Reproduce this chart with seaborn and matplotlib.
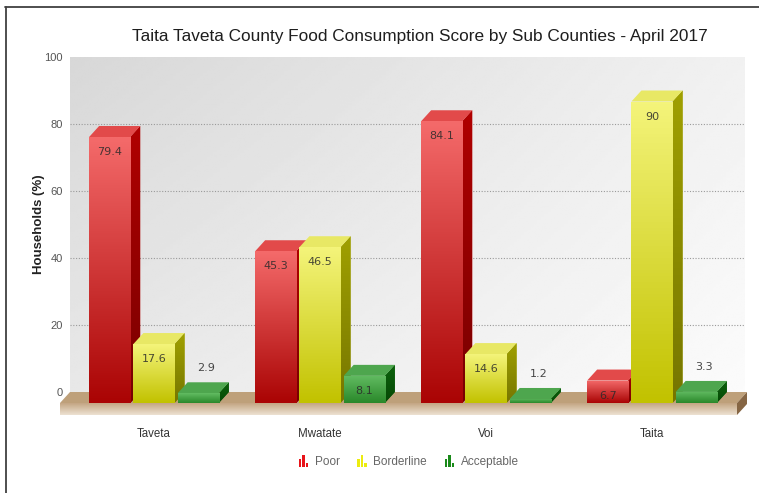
import numpy as np
import pandas as pd
import matplotlib
matplotlib.use("Agg")
import matplotlib.pyplot as plt
import seaborn as sns
from matplotlib.patches import Polygon, Rectangle, Patch
from matplotlib.lines import Line2D
from matplotlib.legend_handler import HandlerBase
from matplotlib.colors import LinearSegmentedColormap

# ---------------- data ----------------
sub_counties = ["Taveta", "Mwatate", "Voi", "Taita"]
categories = ["Poor", "Borderline", "Acceptable"]
poor = [79.4, 45.3, 84.1, 6.7]
borderline = [17.6, 46.5, 14.6, 90]
acceptable = [2.9, 8.1, 1.2, 3.3]
y_ticks = [0, 20, 40, 60, 80, 100]
title = "Taita Taveta County Food Consumption Score by Sub Counties - April 2017"
y_label = "Households (%)"

df = pd.DataFrame({
    "Sub County": sub_counties * 3,
    "Category": [c for c in categories for _ in sub_counties],
    "Households": poor + borderline + acceptable,
})

# ---------------- style ----------------
sns.set_theme(style="white")
plt.rcParams["font.family"] = ["Liberation Sans", "DejaVu Sans"]

W, H = 759, 493
fig = plt.figure(figsize=(W / 100, H / 100), dpi=100)
fig.patch.set_facecolor("white")


def px_box(x0, y_top, x1, y_bot):
    return [x0 / W, 1 - y_bot / H, (x1 - x0) / W, (y_bot - y_top) / H]


XLIM = (-0.566, 3.5)
YLIM = (0, 100)
DXP, DYP = 10, 11            # 3D depth offset in pixels
AX_W_PX, AX_H_PX = 675, 335
dx = DXP * (XLIM[1] - XLIM[0]) / AX_W_PX
dy = DYP * (YLIM[1] - YLIM[0]) / AX_H_PX
px_y = (YLIM[1] - YLIM[0]) / AX_H_PX

# back wall axes (grid, y ticks)
ax_back = fig.add_axes(px_box(70, 57, 745, 392))
# front axes (bars)
ax = fig.add_axes(px_box(60, 68, 735, 403))
ax_back.set_zorder(0)
ax.set_zorder(1)
ax.patch.set_alpha(0)

for a in (ax_back, ax):
    a.set_xlim(*XLIM)
    a.set_ylim(*YLIM)
    for s in a.spines.values():
        s.set_visible(False)

# wall gradient
xs = np.linspace(0, 1, 200)
ys = np.linspace(0, 1, 200)
Xg, Yg = np.meshgrid(xs, ys)
TL, TR, BL, BR = 0.845, 0.945, 0.91, 0.985
wall = BL * (1 - Xg) * (1 - Yg) + BR * Xg * (1 - Yg) + TL * (1 - Xg) * Yg + TR * Xg * Yg
ax_back.imshow(wall, cmap="gray", vmin=0, vmax=1, origin="lower",
               extent=(XLIM[0], XLIM[1], YLIM[0], YLIM[1]), aspect="auto",
               zorder=0, interpolation="bilinear")
for yv in y_ticks[1:-1]:
    ax_back.axhline(yv, color="#9a9a9a", lw=0.8, ls=(0, (1, 1.5)), zorder=1)
ax_back.set_yticks(y_ticks)
ax_back.set_yticklabels([str(v) for v in y_ticks])
ax_back.tick_params(axis="y", length=0, pad=5, labelsize=8, labelcolor="#555555")
ax_back.set_xticks([])
ax_back.set_ylabel(y_label, fontsize=9.5, fontweight="bold", color="#222222", labelpad=0)

# ---------------- bars ----------------
bar_colors = {"Poor": "#d42020", "Borderline": "#dede30", "Acceptable": "#3a9a3a"}
front_grad = {"Poor": ("#f46a6a", "#aa0404"),
              "Borderline": ("#f4f47a", "#c2c200"),
              "Acceptable": ("#62bc62", "#2a882a")}
side_col = {"Poor": ("#b00000", "#780000"),
            "Borderline": ("#a0a000", "#767600"),
            "Acceptable": ("#0c620c", "#064806")}
top_col = {"Poor": "#e24a4a", "Borderline": "#e8e865", "Acceptable": "#4ea64e"}

sns.barplot(data=df, x="Sub County", y="Households", hue="Category",
            order=sub_counties, hue_order=categories, palette=bar_colors,
            saturation=1, width=0.8, gap=0.07, ax=ax, legend=False)
ax.set_xlim(*XLIM)
ax.set_ylim(*YLIM)

# floor
fx0 = XLIM[0]
fx1 = XLIM[0] + 677 * (XLIM[1] - XLIM[0]) / AX_W_PX
fthick = 12 * px_y
floor_top = Polygon([(fx0, 0), (fx1, 0), (fx1 + dx, dy), (fx0 + dx, dy)], closed=True,
                    facecolor="#bea07a", edgecolor="none", zorder=1, clip_on=False)
ax.add_patch(floor_top)
floor_front = Rectangle((fx0, -fthick), fx1 - fx0, fthick, facecolor="#d4bc9c",
                        edgecolor="none", zorder=1, clip_on=False)
ax.add_patch(floor_front)
fgrad = np.linspace(0, 1, 50).reshape(-1, 1)
fcmap = LinearSegmentedColormap.from_list("floor", ["#ede2d2", "#c4a684"])
im = ax.imshow(fgrad, cmap=fcmap, origin="lower", aspect="auto",
               extent=(fx0, fx1, -fthick, 0), zorder=1.1, clip_on=False)
im.set_clip_path(floor_front)
floor_side = Polygon([(fx1, 0), (fx1 + dx, dy), (fx1 + dx, dy - fthick), (fx1, -fthick)],
                     closed=True, facecolor="#866644", edgecolor="none", zorder=1, clip_on=False)
ax.add_patch(floor_side)

gy = np.linspace(0, 1, 100).reshape(-1, 1)
for ci, (cat, cont) in enumerate(zip(categories, ax.containers)):
    cmap = LinearSegmentedColormap.from_list(cat, [front_grad[cat][1], front_grad[cat][0]])
    scmap = LinearSegmentedColormap.from_list(cat + "s", [side_col[cat][1], side_col[cat][0]])
    for bi, bar in enumerate(cont):
        x0 = bar.get_x()
        w = bar.get_width()
        h = bar.get_height()
        z = 3 + ci * 0.5 + bi * 2
        # side face
        side = Polygon([(x0 + w, 0), (x0 + w, h), (x0 + w + dx, h + dy), (x0 + w + dx, dy)],
                       closed=True, facecolor=side_col[cat][0], edgecolor="none", zorder=z)
        ax.add_patch(side)
        sim = ax.imshow(gy, cmap=scmap, origin="lower", aspect="auto",
                        extent=(x0 + w, x0 + w + dx, 0, h + dy), zorder=z + 0.05)
        sim.set_clip_path(side)
        # top face
        top = Polygon([(x0, h), (x0 + w, h), (x0 + w + dx, h + dy), (x0 + dx, h + dy)],
                      closed=True, facecolor=top_col[cat], edgecolor="none", zorder=z + 0.1)
        ax.add_patch(top)
        # front face with gradient
        bar.set_zorder(z + 0.2)
        bar.set_edgecolor("none")
        fim = ax.imshow(gy, cmap=cmap, origin="lower", aspect="auto",
                        extent=(x0, x0 + w, 0, h), zorder=z + 0.3)
        fim.set_clip_path(bar)
        # value label
        label = f"{h:g}"
        if h >= 5:
            ax.text(x0 + w / 2, h - 15 * px_y, label, ha="center", va="center",
                    fontsize=8, color="#2a2a2a", alpha=0.85, zorder=20,
                    family=["DejaVu Sans"])
        else:
            ax.text(x0 + w / 2 + dx * 0.8, h + dy + 14 * px_y, label, ha="center", va="center",
                    fontsize=8, color="#333333", alpha=0.9, zorder=20,
                    family=["DejaVu Sans"])

ax.set_xlim(*XLIM)
ax.set_ylim(*YLIM)
ax.set_yticks([])
ax.set_xlabel("")
ax.set_ylabel("")
ax.set_xticks(range(len(sub_counties)))
ax.set_xticklabels(sub_counties)
ax.tick_params(axis="x", length=0, pad=18, labelsize=8.3, labelcolor="#333333")

# ---------------- legend ----------------
class BarsIcon(HandlerBase):
    def create_artists(self, legend, orig_handle, xdescent, ydescent, width, height,
                       fontsize, trans):
        color = orig_handle.get_facecolor()
        arts = []
        bw = width * 0.22
        step = width * 0.3
        hs = [0.8, 1.15, 0.4]
        x_start = -xdescent + width * 0.1
        for i, hh in enumerate(hs):
            r = Rectangle((x_start + i * step, -ydescent - height * 0.1), bw, height * hh,
                          facecolor=color, edgecolor="none", transform=trans)
            arts.append(r)
        return arts


legend_colors = {"Poor": "#e8141a", "Borderline": "#ecec10", "Acceptable": "#1a8a1a"}
handles = [Patch(facecolor=legend_colors[c], label=c) for c in categories]
fig.legend(handles=handles, labels=categories, loc="center",
           bbox_to_anchor=(408 / W, 1 - 462 / H), ncol=3, frameon=False,
           fontsize=8.5, labelcolor="#666666", handlelength=1.0, handleheight=1.0,
           handletextpad=0.45, columnspacing=1.4,
           handler_map={Patch: BarsIcon()})

# ---------------- title & frame ----------------
fig.text(420 / W, 1 - 36 / H, title, ha="center", va="center", fontsize=12.4,
         color="#1e1e1e")
fig.add_artist(Line2D([5 / W, 1], [1 - 7 / H, 1 - 7 / H], transform=fig.transFigure,
                      color="#404040", lw=1.3))
fig.add_artist(Line2D([6 / W, 6 / W], [0, 1 - 7 / H], transform=fig.transFigure,
                      color="#404040", lw=1.3))

fig.savefig("out.png", dpi=100)
